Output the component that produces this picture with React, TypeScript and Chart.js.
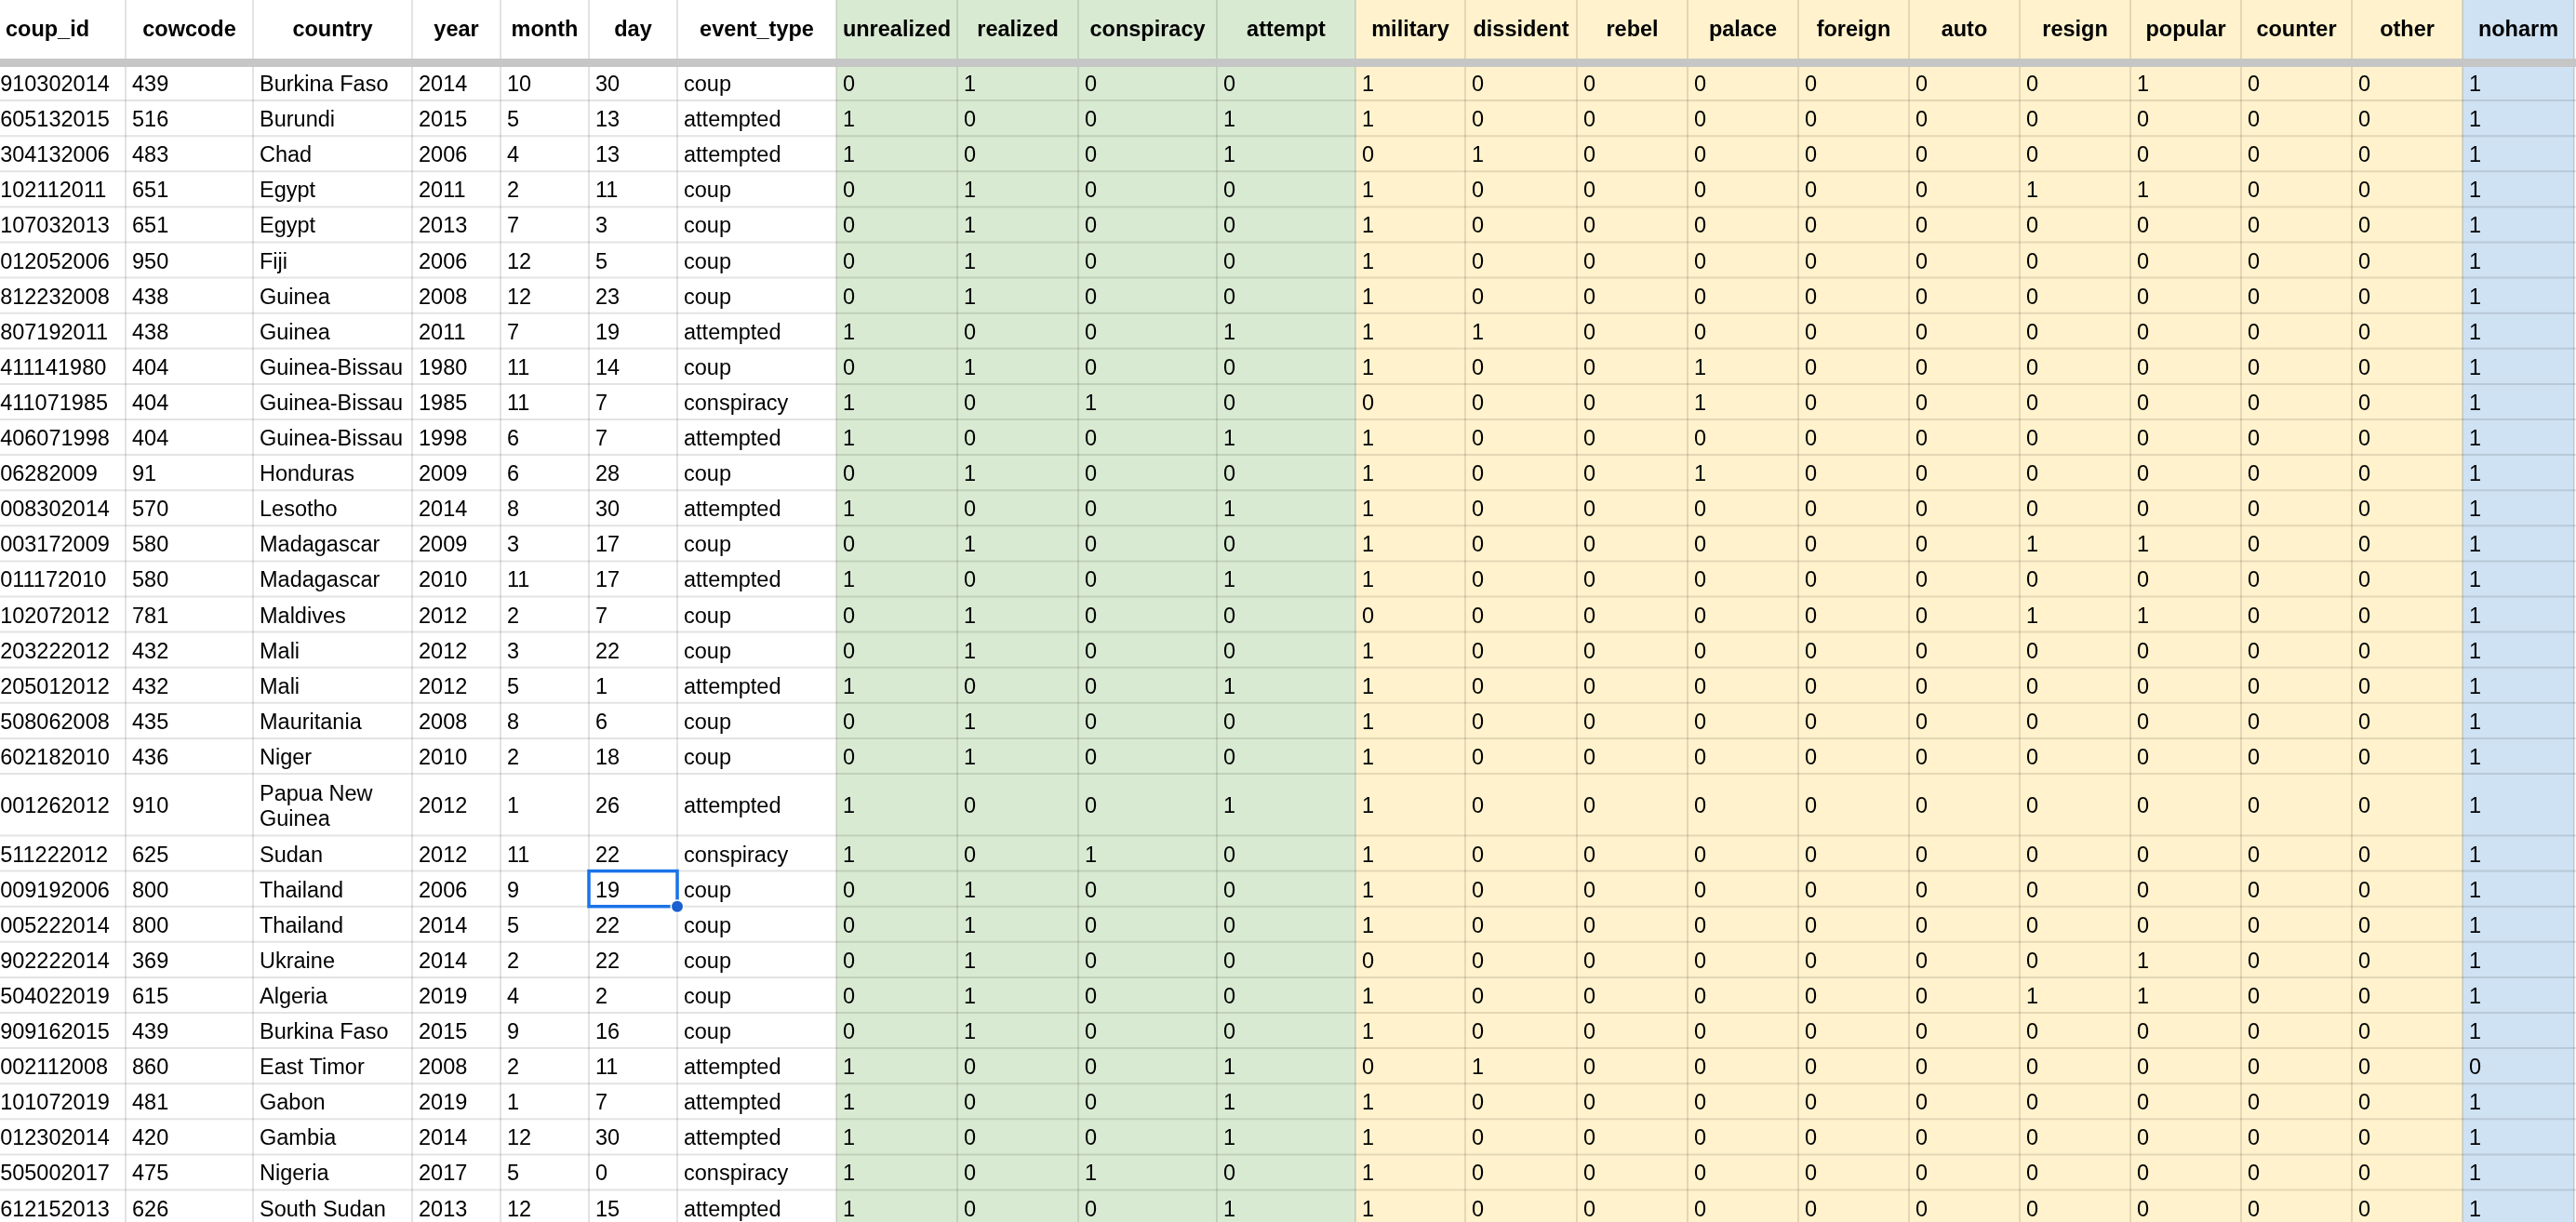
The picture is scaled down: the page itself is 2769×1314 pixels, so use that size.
import { useEffect, useRef } from "react";
import { Chart, registerables } from "chart.js";

Chart.register(...registerables);

// ---- data ----
const coupIds = [
  "43910302014", "51605132015", "48304132006", "65102112011", "65107032013",
  "95012052006", "43812232008", "43807192011", "40411141980", "40411071985",
  "40406071998", "9106282009", "57008302014", "58003172009", "58011172010",
  "78102072012", "43203222012", "43205012012", "43508062008", "43602182010",
  "91001262012", "62511222012", "80009192006", "80005222014", "36902222014",
  "61504022019", "43909162015", "86002112008", "48101072019", "42012302014",
  "47505002017", "62612152013",
];
const cowcodes = [
  439, 516, 483, 651, 651, 950, 438, 438, 404, 404, 404, 91, 570, 580, 580, 781,
  432, 432, 435, 436, 910, 625, 800, 800, 369, 615, 439, 860, 481, 420, 475, 626,
];
const countries = [
  "Burkina Faso", "Burundi", "Chad", "Egypt", "Egypt", "Fiji", "Guinea", "Guinea",
  "Guinea-Bissau", "Guinea-Bissau", "Guinea-Bissau", "Honduras", "Lesotho",
  "Madagascar", "Madagascar", "Maldives", "Mali", "Mali", "Mauritania", "Niger",
  "Papua New Guinea", "Sudan", "Thailand", "Thailand", "Ukraine", "Algeria",
  "Burkina Faso", "East Timor", "Gabon", "Gambia", "Nigeria", "South Sudan",
];
const years = [
  2014, 2015, 2006, 2011, 2013, 2006, 2008, 2011, 1980, 1985, 1998, 2009, 2014, 2009,
  2010, 2012, 2012, 2012, 2008, 2010, 2012, 2012, 2006, 2014, 2014, 2019, 2015, 2008,
  2019, 2014, 2017, 2013,
];
const months = [10, 5, 4, 2, 7, 12, 12, 7, 11, 11, 6, 6, 8, 3, 11, 2, 3, 5, 8, 2, 1, 11, 9, 5, 2, 4, 9, 2, 1, 12, 5, 12];
const days = [30, 13, 13, 11, 3, 5, 23, 19, 14, 7, 7, 28, 30, 17, 17, 7, 22, 1, 6, 18, 26, 22, 19, 22, 22, 2, 16, 11, 7, 30, 0, 15];
const eventTypes = [
  "coup", "attempted", "attempted", "coup", "coup", "coup", "coup", "attempted",
  "coup", "conspiracy", "attempted", "coup", "attempted", "coup", "attempted", "coup",
  "coup", "attempted", "coup", "coup", "attempted", "conspiracy", "coup", "coup",
  "coup", "coup", "coup", "attempted", "attempted", "attempted", "conspiracy", "attempted",
];

const unrealized = [0, 1, 1, 0, 0, 0, 0, 1, 0, 1, 1, 0, 1, 0, 1, 0, 0, 1, 0, 0, 1, 1, 0, 0, 0, 0, 0, 1, 1, 1, 1, 1];
const realized = [1, 0, 0, 1, 1, 1, 1, 0, 1, 0, 0, 1, 0, 1, 0, 1, 1, 0, 1, 1, 0, 0, 1, 1, 1, 1, 1, 0, 0, 0, 0, 0];
const conspiracy = [0, 0, 0, 0, 0, 0, 0, 0, 0, 1, 0, 0, 0, 0, 0, 0, 0, 0, 0, 0, 0, 1, 0, 0, 0, 0, 0, 0, 0, 0, 1, 0];
const attempt = [0, 1, 1, 0, 0, 0, 0, 1, 0, 0, 1, 0, 1, 0, 1, 0, 0, 1, 0, 0, 1, 0, 0, 0, 0, 0, 0, 1, 1, 1, 0, 1];
const military = [1, 1, 0, 1, 1, 1, 1, 1, 1, 0, 1, 1, 1, 1, 1, 0, 1, 1, 1, 1, 1, 1, 1, 1, 0, 1, 1, 0, 1, 1, 1, 1];
const dissident = [0, 0, 1, 0, 0, 0, 0, 1, 0, 0, 0, 0, 0, 0, 0, 0, 0, 0, 0, 0, 0, 0, 0, 0, 0, 0, 0, 1, 0, 0, 0, 0];
const rebel = [0, 0, 0, 0, 0, 0, 0, 0, 0, 0, 0, 0, 0, 0, 0, 0, 0, 0, 0, 0, 0, 0, 0, 0, 0, 0, 0, 0, 0, 0, 0, 0];
const palace = [0, 0, 0, 0, 0, 0, 0, 0, 1, 1, 0, 1, 0, 0, 0, 0, 0, 0, 0, 0, 0, 0, 0, 0, 0, 0, 0, 0, 0, 0, 0, 0];
const foreign = [0, 0, 0, 0, 0, 0, 0, 0, 0, 0, 0, 0, 0, 0, 0, 0, 0, 0, 0, 0, 0, 0, 0, 0, 0, 0, 0, 0, 0, 0, 0, 0];
const auto = [0, 0, 0, 0, 0, 0, 0, 0, 0, 0, 0, 0, 0, 0, 0, 0, 0, 0, 0, 0, 0, 0, 0, 0, 0, 0, 0, 0, 0, 0, 0, 0];
const resign = [0, 0, 0, 1, 0, 0, 0, 0, 0, 0, 0, 0, 0, 1, 0, 1, 0, 0, 0, 0, 0, 0, 0, 0, 0, 1, 0, 0, 0, 0, 0, 0];
const popular = [1, 0, 0, 1, 0, 0, 0, 0, 0, 0, 0, 0, 0, 1, 0, 1, 0, 0, 0, 0, 0, 0, 0, 0, 1, 1, 0, 0, 0, 0, 0, 0];
const counter = [0, 0, 0, 0, 0, 0, 0, 0, 0, 0, 0, 0, 0, 0, 0, 0, 0, 0, 0, 0, 0, 0, 0, 0, 0, 0, 0, 0, 0, 0, 0, 0];
const other = [0, 0, 0, 0, 0, 0, 0, 0, 0, 0, 0, 0, 0, 0, 0, 0, 0, 0, 0, 0, 0, 0, 0, 0, 0, 0, 0, 0, 0, 0, 0, 0];
const noharm = [1, 1, 1, 1, 1, 1, 1, 1, 1, 1, 1, 1, 1, 1, 1, 1, 1, 1, 1, 1, 1, 1, 1, 1, 1, 1, 1, 0, 1, 1, 1, 1];

const headers = [
  "coup_id", "cowcode", "country", "year", "month", "day", "event_type",
  "unrealized", "realized", "conspiracy", "attempt",
  "military", "dissident", "rebel", "palace", "foreign", "auto", "resign", "popular", "counter", "other",
  "noharm",
];

const columns: (string | number)[][] = [
  coupIds, cowcodes, countries, years, months, days, eventTypes,
  unrealized, realized, conspiracy, attempt,
  military, dissident, rebel, palace, foreign, auto, resign, popular, counter, other,
  noharm,
];

// ---- layout (sheet geometry, in px units of the scales) ----
const WIDTH = 2769;
const HEIGHT = 1314;
const FIRST_COL_X = -33;
const colWidths = [168, 137, 171, 95, 95, 95, 171, 130, 130, 149, 149, 118, 120, 119, 119, 119, 119, 119, 119, 119, 119, 120];
const HEADER_H = 63;
const BAND_BOTTOM = 72;
const ROW_TOP = 70;
const ROW_H = 38.1;
const WRAP_ROW_H = 66.5;
const PAD = 7;
const TEXT_DY = 2.5;
const FONT = '"Liberation Sans", Arial, Helvetica, sans-serif';
const FONT_SIZE = 23.5;

const GREEN = "#d9ead3";
const YELLOW = "#fff2cc";
const BLUE = "#cfe2f3";
const colFill = (c: number) => (c >= 7 && c <= 10 ? GREEN : c >= 11 && c <= 20 ? YELLOW : c === 21 ? BLUE : "#ffffff");

const SELECTED_COL = 5;
const SELECTED_ROW = 22;

const colEdges: number[] = [FIRST_COL_X];
colWidths.forEach((w) => colEdges.push(colEdges[colEdges.length - 1] + w));

const sheetPlugin = {
  id: "sheetTable",
  beforeDatasetsDraw(chart: any) {
    const { ctx } = chart;
    const x = chart.scales.x;
    const y = chart.scales.y;
    const px = (v: number) => x.getPixelForValue(v);
    const py = (v: number) => y.getPixelForValue(v);

    ctx.save();
    ctx.font = `${FONT_SIZE}px ${FONT}`;

    // wrap country names that do not fit
    const countryLines = countries.map((name) => {
      const maxW = colWidths[2] - PAD * 2;
      if (ctx.measureText(name).width <= maxW) return [name];
      const words = name.split(" ");
      const lines: string[] = [];
      let cur = "";
      words.forEach((w) => {
        const t = cur ? cur + " " + w : w;
        if (ctx.measureText(t).width > maxW && cur) {
          lines.push(cur);
          cur = w;
        } else cur = t;
      });
      lines.push(cur);
      return lines;
    });

    const rowEdges: number[] = [ROW_TOP];
    countryLines.forEach((l) => rowEdges.push(rowEdges[rowEdges.length - 1] + (l.length > 1 ? WRAP_ROW_H : ROW_H)));

    const left = px(0);
    const right = px(WIDTH);
    const top = py(0);
    const bottom = py(HEIGHT);

    ctx.fillStyle = "#ffffff";
    ctx.fillRect(left, top, right - left, bottom - top);

    // cell fills
    for (let c = 0; c < colWidths.length; c++) {
      const x0 = px(colEdges[c]);
      const x1 = px(colEdges[c + 1]);
      ctx.fillStyle = colFill(c);
      ctx.fillRect(x0, top, x1 - x0, bottom - top);
    }

    // grid lines
    ctx.strokeStyle = "rgba(0,0,0,0.11)";
    ctx.lineWidth = 2;
    colEdges.forEach((e) => {
      ctx.beginPath();
      ctx.moveTo(px(e), top);
      ctx.lineTo(px(e), bottom);
      ctx.stroke();
    });
    rowEdges.slice(1).forEach((e) => {
      ctx.beginPath();
      ctx.moveTo(left, py(e));
      ctx.lineTo(right, py(e));
      ctx.stroke();
    });

    // frozen header divider
    ctx.fillStyle = "#c6c6c6";
    ctx.fillRect(left, py(HEADER_H), right - left, py(BAND_BOTTOM) - py(HEADER_H));

    // header labels
    ctx.fillStyle = "#000000";
    ctx.textBaseline = "middle";
    ctx.textAlign = "center";
    ctx.font = `bold ${FONT_SIZE}px ${FONT}`;
    headers.forEach((h, c) => {
      ctx.fillText(h, (px(colEdges[c]) + px(colEdges[c + 1])) / 2, py(HEADER_H / 2) + 1);
    });

    // body cells
    ctx.textAlign = "left";
    ctx.font = `${FONT_SIZE}px ${FONT}`;
    for (let r = 0; r < countries.length; r++) {
      const yc = (py(rowEdges[r]) + py(rowEdges[r + 1])) / 2 + TEXT_DY;
      columns.forEach((col, c) => {
        const cx0 = px(colEdges[c]);
        const cx1 = px(colEdges[c + 1]);
        ctx.save();
        ctx.beginPath();
        ctx.rect(cx0, py(rowEdges[r]), cx1 - cx0, py(rowEdges[r + 1]) - py(rowEdges[r]));
        ctx.clip();
        if (c === 2) {
          const lines = countryLines[r];
          const lh = FONT_SIZE * 1.15;
          lines.forEach((l, i) => {
            ctx.fillText(l, cx0 + PAD, yc + (i - (lines.length - 1) / 2) * lh);
          });
        } else {
          ctx.fillText(String(col[r]), cx0 + PAD, yc);
        }
        ctx.restore();
      });
    }

    // active cell
    const sx0 = px(colEdges[SELECTED_COL]);
    const sx1 = px(colEdges[SELECTED_COL + 1]);
    const sy0 = py(rowEdges[SELECTED_ROW]);
    const sy1 = py(rowEdges[SELECTED_ROW + 1]);
    ctx.strokeStyle = "#1a73e8";
    ctx.lineWidth = 3.5;
    ctx.strokeRect(sx0, sy0, sx1 - sx0, sy1 - sy0);
    ctx.beginPath();
    ctx.arc(sx1, sy1, 7.5, 0, Math.PI * 2);
    ctx.fillStyle = "#ffffff";
    ctx.fill();
    ctx.beginPath();
    ctx.arc(sx1, sy1, 6, 0, Math.PI * 2);
    ctx.fillStyle = "#1a5fd0";
    ctx.fill();

    ctx.restore();
  },
};

const SheetTable = () => {
  const chartRef = useRef<HTMLCanvasElement>(null);
  const chartInstance = useRef<Chart | null>(null);

  useEffect(() => {
    document.body.style.margin = "0";
    if (chartRef.current) {
      if (chartInstance.current) {
        chartInstance.current.destroy();
      }
      const ctx = chartRef.current.getContext("2d");
      if (ctx) {
        chartInstance.current = new Chart(ctx, {
          type: "scatter",
          data: { datasets: [] },
          options: {
            animation: false,
            responsive: false,
            events: [],
            layout: { padding: 0 },
            plugins: {
              legend: { display: false },
              tooltip: { enabled: false },
              title: { display: false },
            },
            scales: {
              x: { type: "linear", min: 0, max: WIDTH, display: false },
              y: { type: "linear", min: 0, max: HEIGHT, reverse: true, display: false },
            },
          },
          plugins: [sheetPlugin],
        });
      }
    }

    return () => {
      if (chartInstance.current) {
        chartInstance.current.destroy();
        chartInstance.current = null;
      }
    };
  }, []);

  return (
    <div style={{ width: WIDTH, height: HEIGHT, overflow: "hidden", background: "#fff" }}>
      <canvas ref={chartRef} width={WIDTH} height={HEIGHT}></canvas>
    </div>
  );
};

export default function App() {
  return <SheetTable />;
}
